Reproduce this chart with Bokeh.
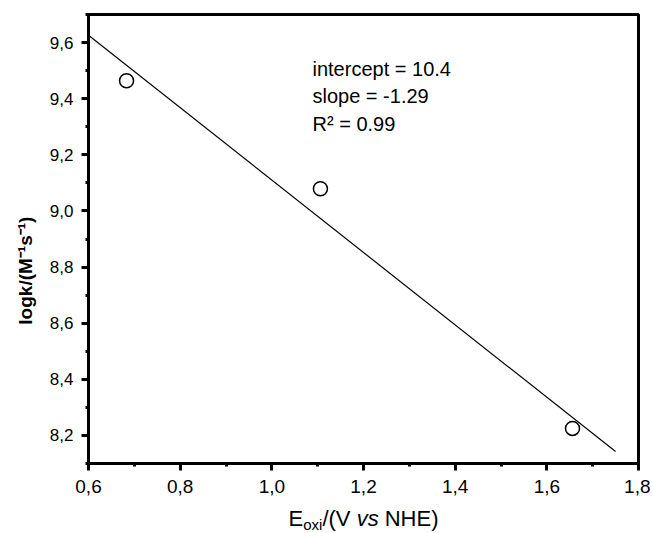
from bokeh.plotting import figure
from bokeh.layouts import column
from bokeh.models import FixedTicker, CustomJSTickFormatter, Label, Range1d
from bokeh.embed import file_html
from bokeh.resources import INLINE

# ---- data ----
e_ox = [0.683, 1.106, 1.656]          # E_oxi / V vs NHE
logk = [9.464, 9.079, 8.225]          # log k / (M^-1 s^-1)
fit_x = [0.6, 1.75]                   # fitted line end points
fit_y = [9.626, 8.1425]
x_major = [0.6, 0.8, 1.0, 1.2, 1.4, 1.6, 1.8]
x_minor = [0.7, 0.9, 1.1, 1.3, 1.5, 1.7]
y_major = [8.2, 8.4, 8.6, 8.8, 9.0, 9.2, 9.4, 9.6]
y_minor = [8.1, 8.3, 8.5, 8.7, 8.9, 9.1, 9.3, 9.5, 9.7]
fit_text = ["intercept = 10.4", "slope = -1.29", "R\u00b2 = 0.99"]
y_title = "logk/(M\u207b\u00b9s\u207b\u00b9)"
x_title_parts = ["E", "oxi", "/(V", "vs", "NHE)"]

FONT = "Liberation Sans"
W = 650

p = figure(width=W, height=503, output_backend="svg", toolbar_location=None, title=None,
           x_range=Range1d(0.6, 1.8), y_range=Range1d(8.1, 9.7),
           min_border_left=88, min_border_right=12, min_border_top=14, min_border_bottom=40)
p.grid.visible = False
p.background_fill_color = "white"
p.border_fill_color = "white"
p.outline_line_color = "black"
p.outline_line_width = 3

fmt = CustomJSTickFormatter(code="return tick.toFixed(1).replace('.', ',');")
p.xaxis.ticker = FixedTicker(ticks=x_major, minor_ticks=x_minor)
p.yaxis.ticker = FixedTicker(ticks=y_major, minor_ticks=y_minor)
for ax in (p.xaxis, p.yaxis):
    ax.formatter = fmt
    ax.axis_line_width = 3
    ax.axis_line_color = "black"
    ax.major_tick_line_width = 3
    ax.minor_tick_line_width = 3
    ax.major_tick_in = 0
    ax.major_tick_out = 7
    ax.minor_tick_in = 0
    ax.minor_tick_out = 3
    ax.major_label_text_font = FONT
    ax.major_label_text_color = "black"

p.xaxis.major_label_text_font_size = "19px"
p.yaxis.major_label_text_font_size = "17px"
p.xaxis.major_label_standoff = 9
p.yaxis.major_label_standoff = 8

p.yaxis.axis_label = y_title + "\u00a0" * 12
p.yaxis.axis_label_text_font = FONT
p.yaxis.axis_label_text_font_style = "bold"
p.yaxis.axis_label_text_font_size = "19px"
p.yaxis.axis_label_standoff = 11
p.yaxis.axis_label_text_color = "black"

# fit line and data points
p.line(fit_x, fit_y, line_color="black", line_width=1.2)
p.scatter(e_ox, logk, size=14, marker="circle", fill_color="white",
          line_color="black", line_width=1.5)

# fit annotations
for i, t in enumerate(fit_text):
    p.add_layout(Label(x=224, y=395 - 27.5 * i, x_units="screen", y_units="screen",
                       text=t, text_font=FONT, text_font_size="20px",
                       text_baseline="alphabetic", text_color="black"))

# x axis title strip (subscript + italic pieces), frame aligned with the plot above
p2 = figure(width=W, height=30, output_backend="svg", toolbar_location=None, title=None,
            x_range=Range1d(0.6, 1.8), y_range=Range1d(0, 30),
            min_border_left=88, min_border_right=12, min_border_top=0, min_border_bottom=0,
            x_axis_location=None, y_axis_location=None)
p2.grid.visible = False
p2.outline_line_color = None
p2.border_fill_color = "white"
p2.background_fill_color = "white"

xs = [1.0364, 1.0684, 1.1103, 1.1850, 1.2463]
ys = [15, 9.5, 15, 15, 15]
sizes = ["22px", "15px", "22px", "22px", "22px"]
styles = ["normal", "normal", "normal", "italic", "normal"]
for x, y, t, fs, st in zip(xs, ys, x_title_parts, sizes, styles):
    p2.add_layout(Label(x=x, y=y, y_units="screen", text=t, text_font=FONT,
                        text_font_size=fs, text_font_style=st,
                        text_baseline="alphabetic", text_color="black"))

layout = column(p, p2, spacing=0)
open("out.html", "w").write(file_html(layout, INLINE))
